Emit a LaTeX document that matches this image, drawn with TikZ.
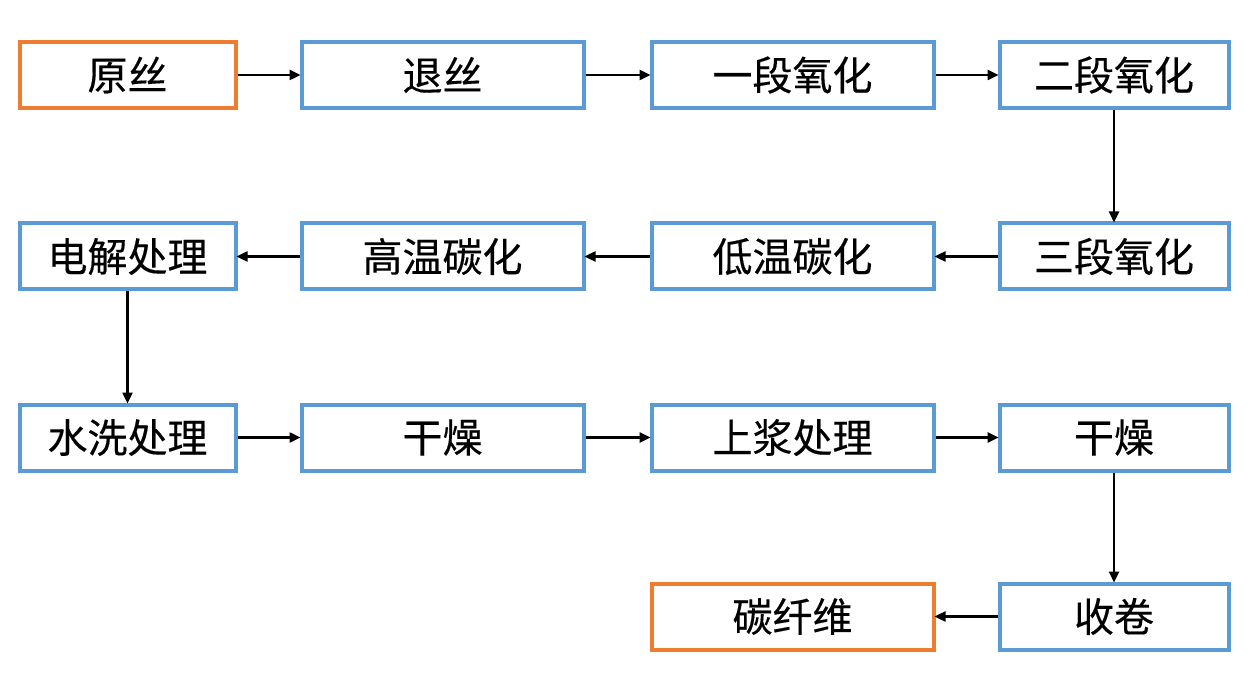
\documentclass[tikz,border=0pt]{standalone}
\usepackage{fontspec}
\setmainfont{Noto Sans CJK SC}[FakeBold=0.3]
\usetikzlibrary{arrows.meta}
\definecolor{bl}{HTML}{5B9BD5}
\definecolor{og}{HTML}{ED7D31}
\tikzset{
  box/.style={draw=bl, line width=4pt, fill=white, minimum height=66pt, inner sep=0pt, font=\fontsize{40}{44}\selectfont},
  obox/.style={box, draw=og},
  w1/.style={minimum width=216pt},
  w2/.style={minimum width=282pt},
  w4/.style={minimum width=229pt},
  con/.style={line width=2.4pt, -{Triangle[length=11pt,width=10pt]}, shorten >=-1pt}
}
\begin{document}
\begin{tikzpicture}[x=1pt,y=-1pt]
\fill[white] (0,0) rectangle (1248,676);
\useasboundingbox (0,0) rectangle (1248,676);
\node[obox,w1] (a1) at (127.5,75) {原丝};
\node[box,w2] (a2) at (442.5,75) {退丝};
\node[box,w2] (a3) at (792.5,75) {一段氧化};
\node[box,w4] (a4) at (1114,75) {二段氧化};
\node[box,w1] (b1) at (127.5,256.5) {电解处理};
\node[box,w2] (b2) at (442.5,256.5) {高温碳化};
\node[box,w2] (b3) at (792.5,256.5) {低温碳化};
\node[box,w4] (b4) at (1114,256.5) {三段氧化};
\node[box,w1] (c1) at (127.5,437.5) {水洗处理};
\node[box,w2] (c2) at (442.5,437.5) {干燥};
\node[box,w2] (c3) at (792.5,437.5) {上浆处理};
\node[box,w4] (c4) at (1114,437.5) {干燥};
\node[obox,w2] (d3) at (792.5,616.5) {碳纤维};
\node[box,w4] (d4) at (1114,616.5) {收卷};
\draw[con] (a1) -- (a2);
\draw[con] (a2) -- (a3);
\draw[con] (a3) -- (a4);
\draw[con] (a4) -- (b4);
\draw[con] (b4) -- (b3);
\draw[con] (b3) -- (b2);
\draw[con] (b2) -- (b1);
\draw[con] (b1) -- (c1);
\draw[con] (c1) -- (c2);
\draw[con] (c2) -- (c3);
\draw[con] (c3) -- (c4);
\draw[con] (c4) -- (d4);
\draw[con] (d4) -- (d3);
\end{tikzpicture}
\end{document}
